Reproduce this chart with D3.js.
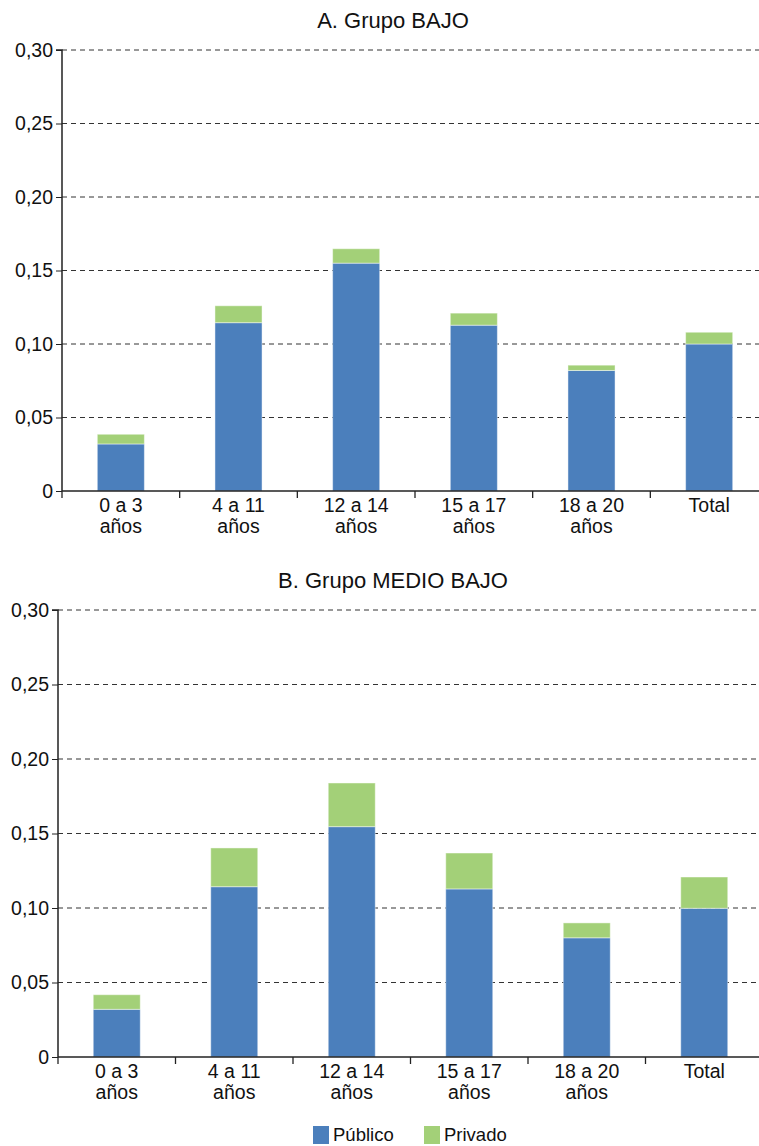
<!DOCTYPE html>
<html>
<head>
<meta charset="utf-8">
<script src="https://cdn.jsdelivr.net/npm/d3@7"></script>
<style>
  body { margin: 0; background: #fff; }
  svg { display: block; font-family: "Liberation Sans", Arial, sans-serif; }
</style>
</head>
<body>
<div id="chart"></div>
<script>
// categories and tick labels
const categories = [["0 a 3", "años"], ["4 a 11", "años"], ["12 a 14", "años"], ["15 a 17", "años"], ["18 a 20", "años"], ["Total"]];
const yTicks = [0, 0.05, 0.10, 0.15, 0.20, 0.25, 0.30];
const seriesNames = ["Público", "Privado"];

// Grupo BAJO
const bajoPublico = [0.032, 0.1145, 0.155, 0.1128, 0.082, 0.100];
const bajoPrivado = [0.0066, 0.0115, 0.0098, 0.0082, 0.0036, 0.008];

// Grupo MEDIO BAJO
const medioPublico = [0.032, 0.1143, 0.1546, 0.1128, 0.080, 0.0998];
const medioPrivado = [0.0098, 0.026, 0.0293, 0.0241, 0.010, 0.021];

const colors = ["#4b7fbc", "#a3d078"];

const width = 759, height = 1146;
const svg = d3.select("#chart").append("svg")
  .attr("width", width)
  .attr("height", height);

const fmt = v => v === 0 ? "0" : d3.format(".2f")(v).replace(".", ",");

function panel(title, pub, priv, box) {
  const g = svg.append("g");
  const x = d3.scaleBand().domain(d3.range(categories.length)).range([box.left, box.right]);
  const y = d3.scaleLinear().domain([0, 0.30]).range([box.bottom, box.top]);

  g.append("text")
    .attr("x", 393).attr("y", box.titleY)
    .attr("text-anchor", "middle")
    .attr("font-size", 22)
    .attr("fill", "#111")
    .text(title);

  // gridlines
  g.append("g").selectAll("line")
    .data(yTicks.filter(d => d > 0))
    .join("line")
    .attr("x1", box.left).attr("x2", width)
    .attr("y1", d => y(d)).attr("y2", d => y(d))
    .attr("stroke", "#333").attr("stroke-width", 1)
    .attr("stroke-dasharray", "5,4");

  // stacked bars
  const rows = categories.map((c, i) => ({ i, pub: pub[i], priv: priv[i] }));
  const stack = d3.stack().keys(["pub", "priv"])(rows);
  const bw = x.bandwidth() * 0.4;
  g.append("g").selectAll("g")
    .data(stack)
    .join("g")
    .attr("fill", (d, k) => colors[k])
    .selectAll("rect")
    .data(d => d)
    .join("rect")
    .attr("x", d => x(d.data.i) + (x.bandwidth() - bw) / 2)
    .attr("width", bw)
    .attr("y", d => y(d[1]))
    .attr("height", d => y(d[0]) - y(d[1]))
    .attr("stroke", "rgba(255,255,255,0.45)")
    .attr("stroke-width", 1);

  // y axis
  const yAxis = d3.axisLeft(y).tickValues(yTicks).tickFormat(fmt).tickSize(6).tickPadding(3);
  const ya = g.append("g").attr("transform", `translate(${box.left},0)`).call(yAxis);
  ya.select(".domain").attr("stroke", "#222").attr("stroke-width", 1.5).attr("d", `M-6,${y(0.30)}H0V${y(0)}`);
  ya.selectAll(".tick line").attr("stroke", "#222");
  ya.selectAll("text").attr("font-size", 19.5).attr("fill", "#111").attr("font-family", "Liberation Sans, Arial, sans-serif");

  // x axis
  const xa = g.append("g");
  xa.append("line")
    .attr("x1", box.left).attr("x2", width)
    .attr("y1", y(0)).attr("y2", y(0))
    .attr("stroke", "#222").attr("stroke-width", 1.5);
  xa.selectAll("line.tk")
    .data(d3.range(categories.length))
    .join("line")
    .attr("class", "tk")
    .attr("x1", d => x(d)).attr("x2", d => x(d))
    .attr("y1", y(0)).attr("y2", y(0) + 7)
    .attr("stroke", "#222").attr("stroke-width", 1.3);
  const labels = xa.selectAll("text")
    .data(categories)
    .join("text")
    .attr("text-anchor", "middle")
    .attr("font-size", 19.5)
    .attr("fill", "#111")
    .attr("x", (d, i) => x(i) + x.bandwidth() / 2)
    .attr("y", y(0) + 21);
  labels.selectAll("tspan")
    .data(d => d)
    .join("tspan")
    .attr("x", function () { return d3.select(this.parentNode).attr("x"); })
    .attr("dy", (d, j) => j === 0 ? 0 : 21)
    .text(d => d);
}

panel("A. Grupo BAJO", bajoPublico, bajoPrivado, { left: 62, right: 768, top: 50, bottom: 491, titleY: 28 });
panel("B. Grupo MEDIO BAJO", medioPublico, medioPrivado, { left: 58, right: 763, top: 610, bottom: 1057, titleY: 588 });

// legend
const legend = svg.append("g");
const lx = [313, 424];
seriesNames.forEach((name, i) => {
  legend.append("rect")
    .attr("x", lx[i]).attr("y", 1126)
    .attr("width", 16).attr("height", 18)
    .attr("fill", colors[i]);
  legend.append("text")
    .attr("x", lx[i] + 20).attr("y", 1141)
    .attr("font-size", 18.5)
    .attr("fill", "#111")
    .text(name);
});
</script>
</body>
</html>
